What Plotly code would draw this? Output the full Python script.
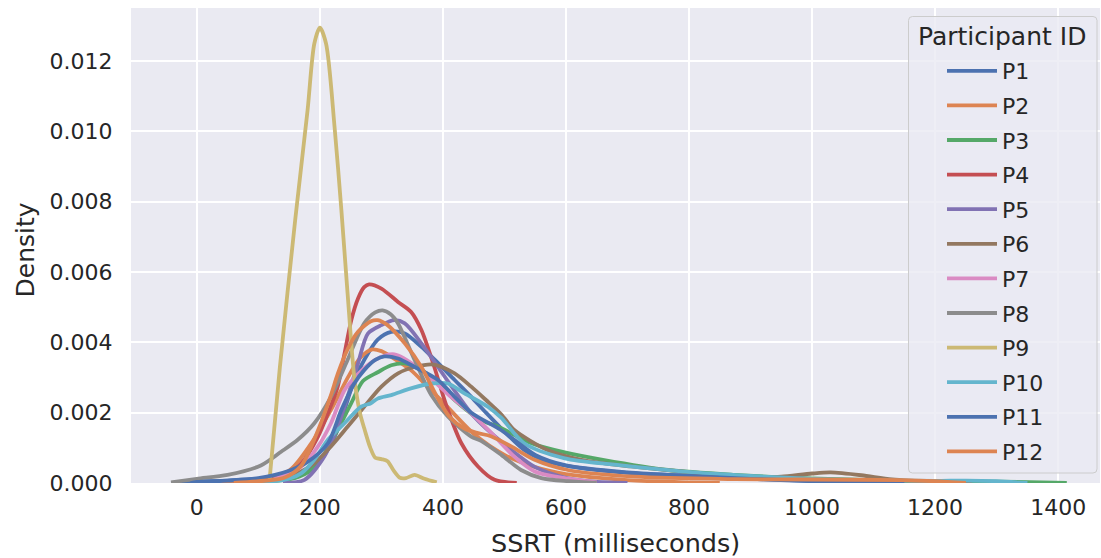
import plotly.graph_objects as go

# ---- data (x: SSRT in ms, y: density) ----
participants = ["P1", "P2", "P3", "P4", "P5", "P6", "P7", "P8", "P9", "P10", "P11", "P12"]
colors = ["#4C72B0", "#DD8452", "#55A868", "#C44E52", "#8172B3", "#937860",
          "#DA8BC3", "#8C8C8C", "#CCB974", "#64B5CD", "#4C72B0", "#DD8452"]

p1_x = [-40, 0, 50, 100, 140, 170, 197, 224, 240, 256, 272, 294, 316, 338, 365, 387, 419, 446, 470, 495, 532, 570, 625, 706, 787, 900, 1000, 1100, 1160]
p1_y = [0.0, 0.00004, 0.00007, 0.00012, 0.00018, 0.00028, 0.00056, 0.00132, 0.00208, 0.00293, 0.0035, 0.00408, 0.0043, 0.00425, 0.00387, 0.0035, 0.00293, 0.00245, 0.002, 0.00155, 0.00094, 0.00061, 0.00042, 0.00028, 0.00022, 0.00012, 0.00005, 0.00002, 0.0]

p2_x = [40, 100, 150, 186, 218, 246, 265, 285, 300, 316, 348, 370, 400, 450, 500, 550, 600, 700, 800, 850]
p2_y = [0.0, 0.00008, 0.00035, 0.00113, 0.00208, 0.00302, 0.00355, 0.0038, 0.00375, 0.00359, 0.00321, 0.00283, 0.0023, 0.0014, 0.0008, 0.00045, 0.00025, 0.00008, 0.00002, 0.0]

p3_x = [100, 159, 186, 208, 229, 251, 270, 294, 316, 338, 365, 392, 419, 462, 490, 544, 598, 660, 766, 874, 983, 1100, 1200, 1300, 1414]
p3_y = [0.00002, 0.00014, 0.00037, 0.00085, 0.00151, 0.00227, 0.0029, 0.00315, 0.00335, 0.0034, 0.00321, 0.00285, 0.00236, 0.00179, 0.0016, 0.00113, 0.00087, 0.00066, 0.00037, 0.00023, 0.00014, 0.00008, 0.00005, 0.00004, 0.0]

p4_x = [60, 100, 142, 170, 197, 213, 229, 240, 251, 262, 272, 280, 300, 327, 348, 365, 386, 400, 408, 430, 457, 484, 520]
p4_y = [0.0, 0.00006, 0.00018, 0.00056, 0.00132, 0.00198, 0.00274, 0.00368, 0.00463, 0.00525, 0.00557, 0.00565, 0.00553, 0.00515, 0.00487, 0.00435, 0.0033, 0.0025, 0.00208, 0.00113, 0.00047, 0.00009, 0.0]

p5_x = [140, 175, 207, 229, 245, 262, 278, 300, 321, 338, 365, 392, 420, 450, 500, 550, 600, 650, 700]
p5_y = [0.0, 0.00009, 0.00075, 0.0016, 0.00245, 0.0034, 0.00425, 0.00449, 0.00463, 0.00454, 0.00397, 0.0033, 0.0026, 0.0019, 0.0011, 0.00045, 0.00015, 0.00003, 0.0]

p6_x = [80, 137, 164, 191, 218, 245, 272, 300, 327, 354, 385, 419, 446, 470, 495, 516, 570, 625, 706, 787, 850, 900, 950, 1000, 1030, 1080, 1130, 1200, 1260]
p6_y = [0.0, 0.00014, 0.00028, 0.00056, 0.00104, 0.0016, 0.00217, 0.00274, 0.00312, 0.0033, 0.00337, 0.00312, 0.00274, 0.00236, 0.00195, 0.00151, 0.00094, 0.00066, 0.00047, 0.00033, 0.0002, 0.00014, 0.00018, 0.00027, 0.0003, 0.00022, 0.0001, 0.00003, 0.0]

p7_x = [110, 170, 197, 218, 240, 262, 290, 321, 365, 413, 446, 480, 516, 549, 598, 650]
p7_y = [0.0, 0.00047, 0.00104, 0.0017, 0.00264, 0.0031, 0.0035, 0.00366, 0.00321, 0.00245, 0.00198, 0.0014, 0.00075, 0.00033, 0.00014, 0.00002]

p8_x = [-42, 0, 50, 104, 137, 164, 191, 218, 245, 272, 290, 302, 315, 327, 354, 381, 408, 446, 462, 495, 527, 560, 603, 650]
p8_y = [0.00002, 0.00012, 0.00023, 0.0005, 0.00089, 0.00123, 0.0017, 0.00245, 0.0035, 0.00454, 0.00485, 0.00491, 0.0048, 0.00454, 0.0035, 0.0025, 0.00189, 0.00132, 0.0012, 0.0008, 0.00037, 0.00014, 0.00005, 0.0]

p9_x = [118, 135, 160, 180, 191, 200, 210, 224, 235, 245, 256, 265, 273, 282, 290, 300, 310, 320, 330, 340, 354, 370, 390]
p9_y = [0.00005, 0.0033, 0.0075, 0.0106, 0.0125, 0.01295, 0.0125, 0.0101, 0.00775, 0.0054, 0.003, 0.002, 0.0015, 0.001, 0.00072, 0.00068, 0.00062, 0.00035, 0.00015, 0.00014, 0.00023, 0.00012, 0.00002]

p10_x = [100, 150, 170, 191, 213, 240, 267, 283, 294, 316, 348, 381, 408, 435, 473, 495, 532, 598, 679, 787, 900, 1000, 1100, 1200, 1250, 1300, 1350]
p10_y = [0.0, 0.00012, 0.00028, 0.00066, 0.00123, 0.0017, 0.00217, 0.00227, 0.0024, 0.0025, 0.00269, 0.00283, 0.00283, 0.00255, 0.00217, 0.00185, 0.00113, 0.0007, 0.00052, 0.00033, 0.0002, 0.00012, 0.00008, 0.00006, 0.00007, 0.00005, 0.0]

p11_x = [-10, 0, 50, 100, 150, 180, 213, 235, 256, 272, 290, 305, 327, 354, 392, 419, 446, 495, 550, 600, 700, 800, 900, 1000, 1100, 1150]
p11_y = [0.0, 0.00003, 0.00007, 0.00014, 0.00035, 0.0006, 0.00113, 0.00208, 0.00283, 0.00321, 0.0035, 0.0036, 0.00354, 0.0033, 0.00293, 0.00245, 0.002, 0.0015, 0.0008, 0.0005, 0.0003, 0.0002, 0.00012, 0.00006, 0.00002, 0.0]

p12_x = [60, 100, 142, 170, 197, 218, 229, 245, 262, 283, 294, 310, 338, 365, 392, 410, 435, 457, 478, 511, 549, 603, 712, 874, 1000, 1145, 1200, 1250]
p12_y = [0.0, 0.00005, 0.00015, 0.0005, 0.0015, 0.0025, 0.0031, 0.0038, 0.0043, 0.0046, 0.00463, 0.00449, 0.00397, 0.0033, 0.0024, 0.0019, 0.00155, 0.00142, 0.00133, 0.00104, 0.00066, 0.00037, 0.00018, 0.00011, 0.0001, 0.00008, 0.00005, 0.0]

xs = [p1_x, p2_x, p3_x, p4_x, p5_x, p6_x, p7_x, p8_x, p9_x, p10_x, p11_x, p12_x]
ys = [p1_y, p2_y, p3_y, p4_y, p5_y, p6_y, p7_y, p8_y, p9_y, p10_y, p11_y, p12_y]

x_ticks = [0, 200, 400, 600, 800, 1000, 1200, 1400]
y_ticks = [0.0, 0.002, 0.004, 0.006, 0.008, 0.010, 0.012]
y_tick_labels = ["0.000", "0.002", "0.004", "0.006", "0.008", "0.010", "0.012"]

FONT = "DejaVu Sans"
TXT = "#262626"
W, H = 1101, 558
ML, MR, MT, MB = 131, 1, 8, 75
PW, PH = W - ML - MR, H - MT - MB


def px_to_paper(px, py):
    return (px - ML) / PW, 1 - (py - MT) / PH


fig = go.Figure()
for name, c, x, y in zip(participants, colors, xs, ys):
    fig.add_trace(go.Scatter(
        x=x, y=y, mode="lines", name=name, legendgroup=name,
        line=dict(color=c, width=3.8, shape="spline", smoothing=0.8),
        hoverinfo="skip",
    ))

# legend frame (rounded box) drawn as a paper shape, like matplotlib's legend frame
bx0, by0 = px_to_paper(908.5, 16.5)
bx1, by1 = px_to_paper(1097, 473)
rx, ry = 4 / PW, 4 / PH
frame_path = (f"M{bx0+rx},{by0} L{bx1-rx},{by0} Q{bx1},{by0} {bx1},{by0-ry} "
              f"L{bx1},{by1+ry} Q{bx1},{by1} {bx1-rx},{by1} "
              f"L{bx0+rx},{by1} Q{bx0},{by1} {bx0},{by1+ry} "
              f"L{bx0},{by0-ry} Q{bx0},{by0} {bx0+rx},{by0} Z")

tx, ty = px_to_paper(1002, 36.5)
lx, ly = px_to_paper(914, 50)

fig.update_layout(
    width=W, height=H,
    margin=dict(l=ML, r=MR, t=MT, b=MB, pad=0, autoexpand=False),
    paper_bgcolor="white", plot_bgcolor="#EAEAF2",
    font=dict(family=FONT, color=TXT, size=22),
    showlegend=True,
    shapes=[dict(type="path", xref="paper", yref="paper", path=frame_path,
                 fillcolor="rgba(234,234,242,0.8)", line=dict(color="#CCCCCC", width=1),
                 layer="above")],
    annotations=[
        dict(text="Participant ID", xref="paper", yref="paper", x=tx, y=ty,
             xanchor="center", yanchor="middle", showarrow=False,
             font=dict(family=FONT, size=25, color=TXT)),
        dict(text="SSRT (milliseconds)", xref="paper", yref="paper", x=0.5, y=0,
             xanchor="center", yanchor="middle", yshift=-60, showarrow=False,
             font=dict(family=FONT, size=25.5, color=TXT)),
        dict(text="Density", xref="paper", yref="paper", x=0, y=0.5,
             xanchor="center", yanchor="middle", xshift=-106, yshift=-5,
             textangle=-90, showarrow=False,
             font=dict(family=FONT, size=25, color=TXT)),
    ],
    legend=dict(
        x=lx, xanchor="left", y=ly, yanchor="top",
        bgcolor="rgba(0,0,0,0)", borderwidth=0,
        font=dict(family=FONT, size=22, color=TXT),
        traceorder="grouped", tracegroupgap=3, indentation=28,
        itemwidth=50,
    ),
    xaxis=dict(
        range=[-107, 1468], tickvals=x_ticks, automargin=False,
        showgrid=True, gridcolor="white", gridwidth=2,
        zeroline=False, showline=False,
        ticks="outside", ticklen=5, tickcolor="rgba(0,0,0,0)",
        tickfont=dict(family=FONT, size=22, color=TXT),
    ),
    yaxis=dict(
        range=[0, 0.01351], tickvals=y_ticks, ticktext=y_tick_labels, automargin=False,
        showgrid=True, gridcolor="white", gridwidth=2,
        zeroline=False, showline=False,
        ticks="outside", ticklen=13, tickcolor="rgba(0,0,0,0)",
        tickfont=dict(family=FONT, size=22, color=TXT),
    ),
)

fig.write_html("out.html", config={"displayModeBar": False},
               post_script="document.body.style.margin='0px';")
